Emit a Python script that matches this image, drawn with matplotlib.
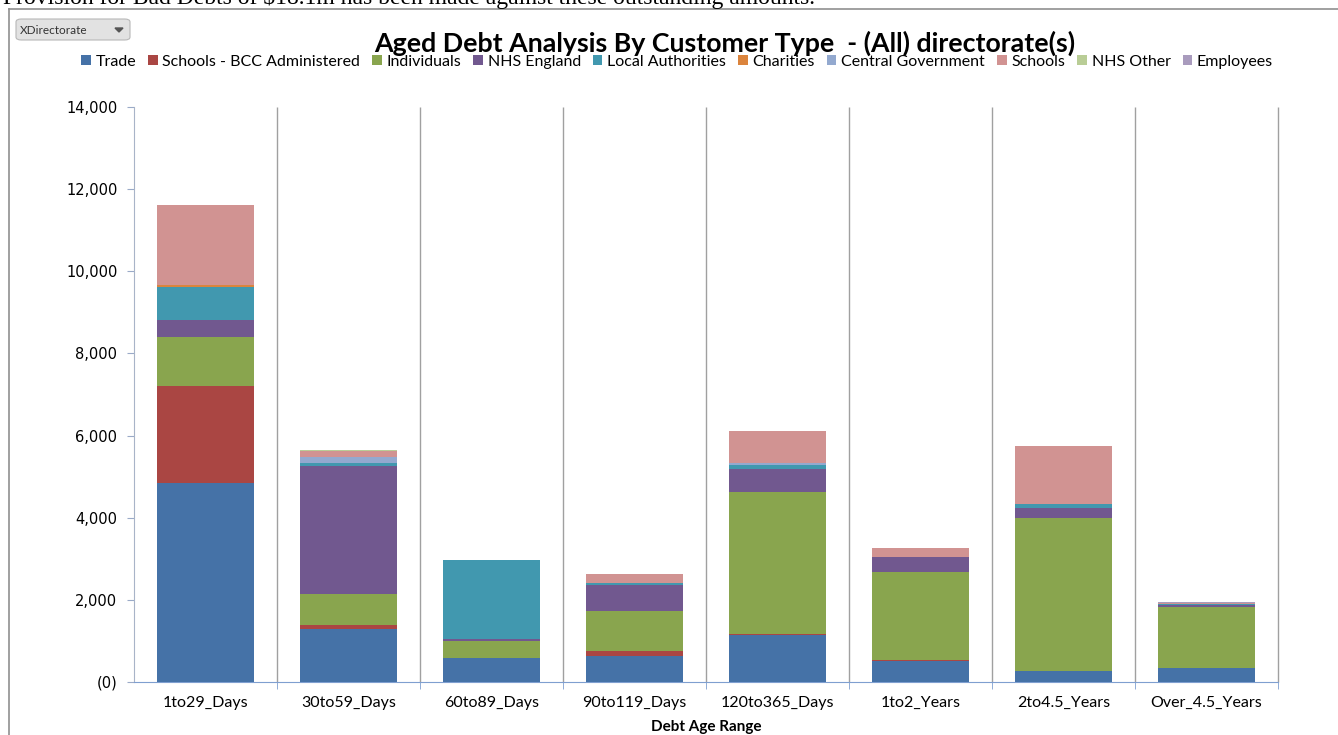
import matplotlib.pyplot as plt
import numpy as np
from matplotlib.patches import FancyBboxPatch, Polygon
from matplotlib.lines import Line2D
from matplotlib.ticker import FuncFormatter

# Data
categories = ["1to29_Days", "30to59_Days", "60to89_Days", "90to119_Days",
              "120to365_Days", "1to2_Years", "2to4.5_Years", "Over_4.5_Years"]

trade = [4846, 1290, 584, 641, 1137, 519, 275, 334]
schools_bcc = [2362, 100, 0, 122, 30, 17, 0, 0]
individuals = [1193, 755, 414, 974, 3465, 2135, 3726, 1500]
nhs_england = [414, 3125, 41, 625, 545, 380, 243, 32]
local_authorities = [811, 73, 1940, 40, 105, 0, 83, 32]
charities = [30, 0, 0, 0, 0, 0, 0, 0]
central_government = [0, 146, 0, 0, 40, 0, 0, 0]
schools = [1965, 139, 0, 229, 794, 212, 1420, 24]
nhs_other = [0, 25, 0, 0, 0, 0, 0, 0]
employees = [0, 0, 0, 0, 0, 0, 0, 15]

series = [
    ("Trade", trade, "#4572A7"),
    ("Schools - BCC Administered", schools_bcc, "#AA4643"),
    ("Individuals", individuals, "#89A54E"),
    ("NHS England", nhs_england, "#71588F"),
    ("Local Authorities", local_authorities, "#4198AF"),
    ("Charities", charities, "#DB843D"),
    ("Central Government", central_government, "#93A9CF"),
    ("Schools", schools, "#D19392"),
    ("NHS Other", nhs_other, "#B9CD96"),
    ("Employees", employees, "#A99BBD"),
]

W, H = 1338, 735
fig = plt.figure(figsize=(W / 100, H / 100), dpi=100)
ax = fig.add_axes([134 / W, 1 - 682 / H, (1278 - 134) / W, (682 - 107) / H])

x = np.arange(len(categories))
bottom = np.zeros(len(categories))
for name, vals, color in series:
    vals = np.array(vals, dtype=float)
    ax.bar(x, vals, 0.685, bottom=bottom, color=color, label=name,
           edgecolor="none", zorder=3)
    bottom += vals

ax.set_xlim(-0.5, len(categories) - 0.5)
ax.set_ylim(0, 14000)
ax.set_yticks(np.arange(0, 14001, 2000))
ax.yaxis.set_major_formatter(FuncFormatter(
    lambda v, p: "(0)" if v == 0 else f"{v:,.0f}"))
ax.set_xticks(x)
ax.set_xticklabels(categories, fontfamily="Lato", fontsize=11.5)
ax.set_xticks(np.arange(0.5, len(categories), 1), minor=True)
ax.tick_params(axis="x", which="major", length=0, pad=10)
ax.tick_params(axis="x", which="minor", length=5, color="#7f9fd0")
ax.tick_params(axis="y", length=5, color="#9aaac8", labelsize=10.5, pad=7)

# category separators
ax.vlines(np.arange(0.5, len(categories), 1), 0, 14000, colors="#a0a0a0",
          linewidth=1.0, zorder=1, clip_on=False)

for s in ("top", "right"):
    ax.spines[s].set_visible(False)
ax.spines["bottom"].set_color("#7f9fd0")
ax.spines["left"].set_color("#a8b4c8")

ax.set_xlabel("Debt Age Range", fontfamily="Lato", fontweight="bold",
              fontsize=11, labelpad=7)

fig.text(725 / W, 1 - 43 / H, "Aged Debt Analysis By Customer Type  - (All) directorate(s)",
         ha="center", va="center", fontfamily="Lato", fontweight="bold", fontsize=19.3)

handles, labels = ax.get_legend_handles_labels()
leg = fig.legend(handles, labels, loc="center", bbox_to_anchor=(677 / W, 1 - 62 / H),
                 ncol=10, frameon=False, prop={"family": "Lato", "size": 11.5},
                 handlelength=0.6, handleheight=0.6, handletextpad=0.3,
                 columnspacing=0.75, borderpad=0)

# document text cut off at the top and chart frame
fig.text(3 / W, 1 - 4 / H,
         "Provision for Bad Debts of $18.1m has been made against these outstanding amounts.",
         ha="left", va="baseline", fontfamily="Liberation Serif", fontsize=17)
fig.add_artist(Line2D([9 / W, 1], [1 - 9 / H, 1 - 9 / H], transform=fig.transFigure,
                      color="#909090", linewidth=1.2))
fig.add_artist(Line2D([9 / W, 9 / W], [0, 1 - 9 / H], transform=fig.transFigure,
                      color="#909090", linewidth=1.2))

# filter button
btn = FancyBboxPatch((16 / W, 1 - 40 / H), 114 / W, 21 / H,
                     boxstyle="round,pad=0,rounding_size=0.004",
                     transform=fig.transFigure, facecolor="#e2e2e2",
                     edgecolor="#b8b8b8", linewidth=0.8)
fig.add_artist(btn)
fig.text(20 / W, 1 - 30 / H, "XDirectorate", ha="left", va="center",
         fontfamily="Lato", fontsize=8.5, color="#333333")
tri = Polygon([(115 / W, 1 - 28 / H), (123 / W, 1 - 28 / H), (119 / W, 1 - 32 / H)],
              closed=True, transform=fig.transFigure, color="#555555")
fig.add_artist(tri)

fig.savefig("out.png", dpi=100)
